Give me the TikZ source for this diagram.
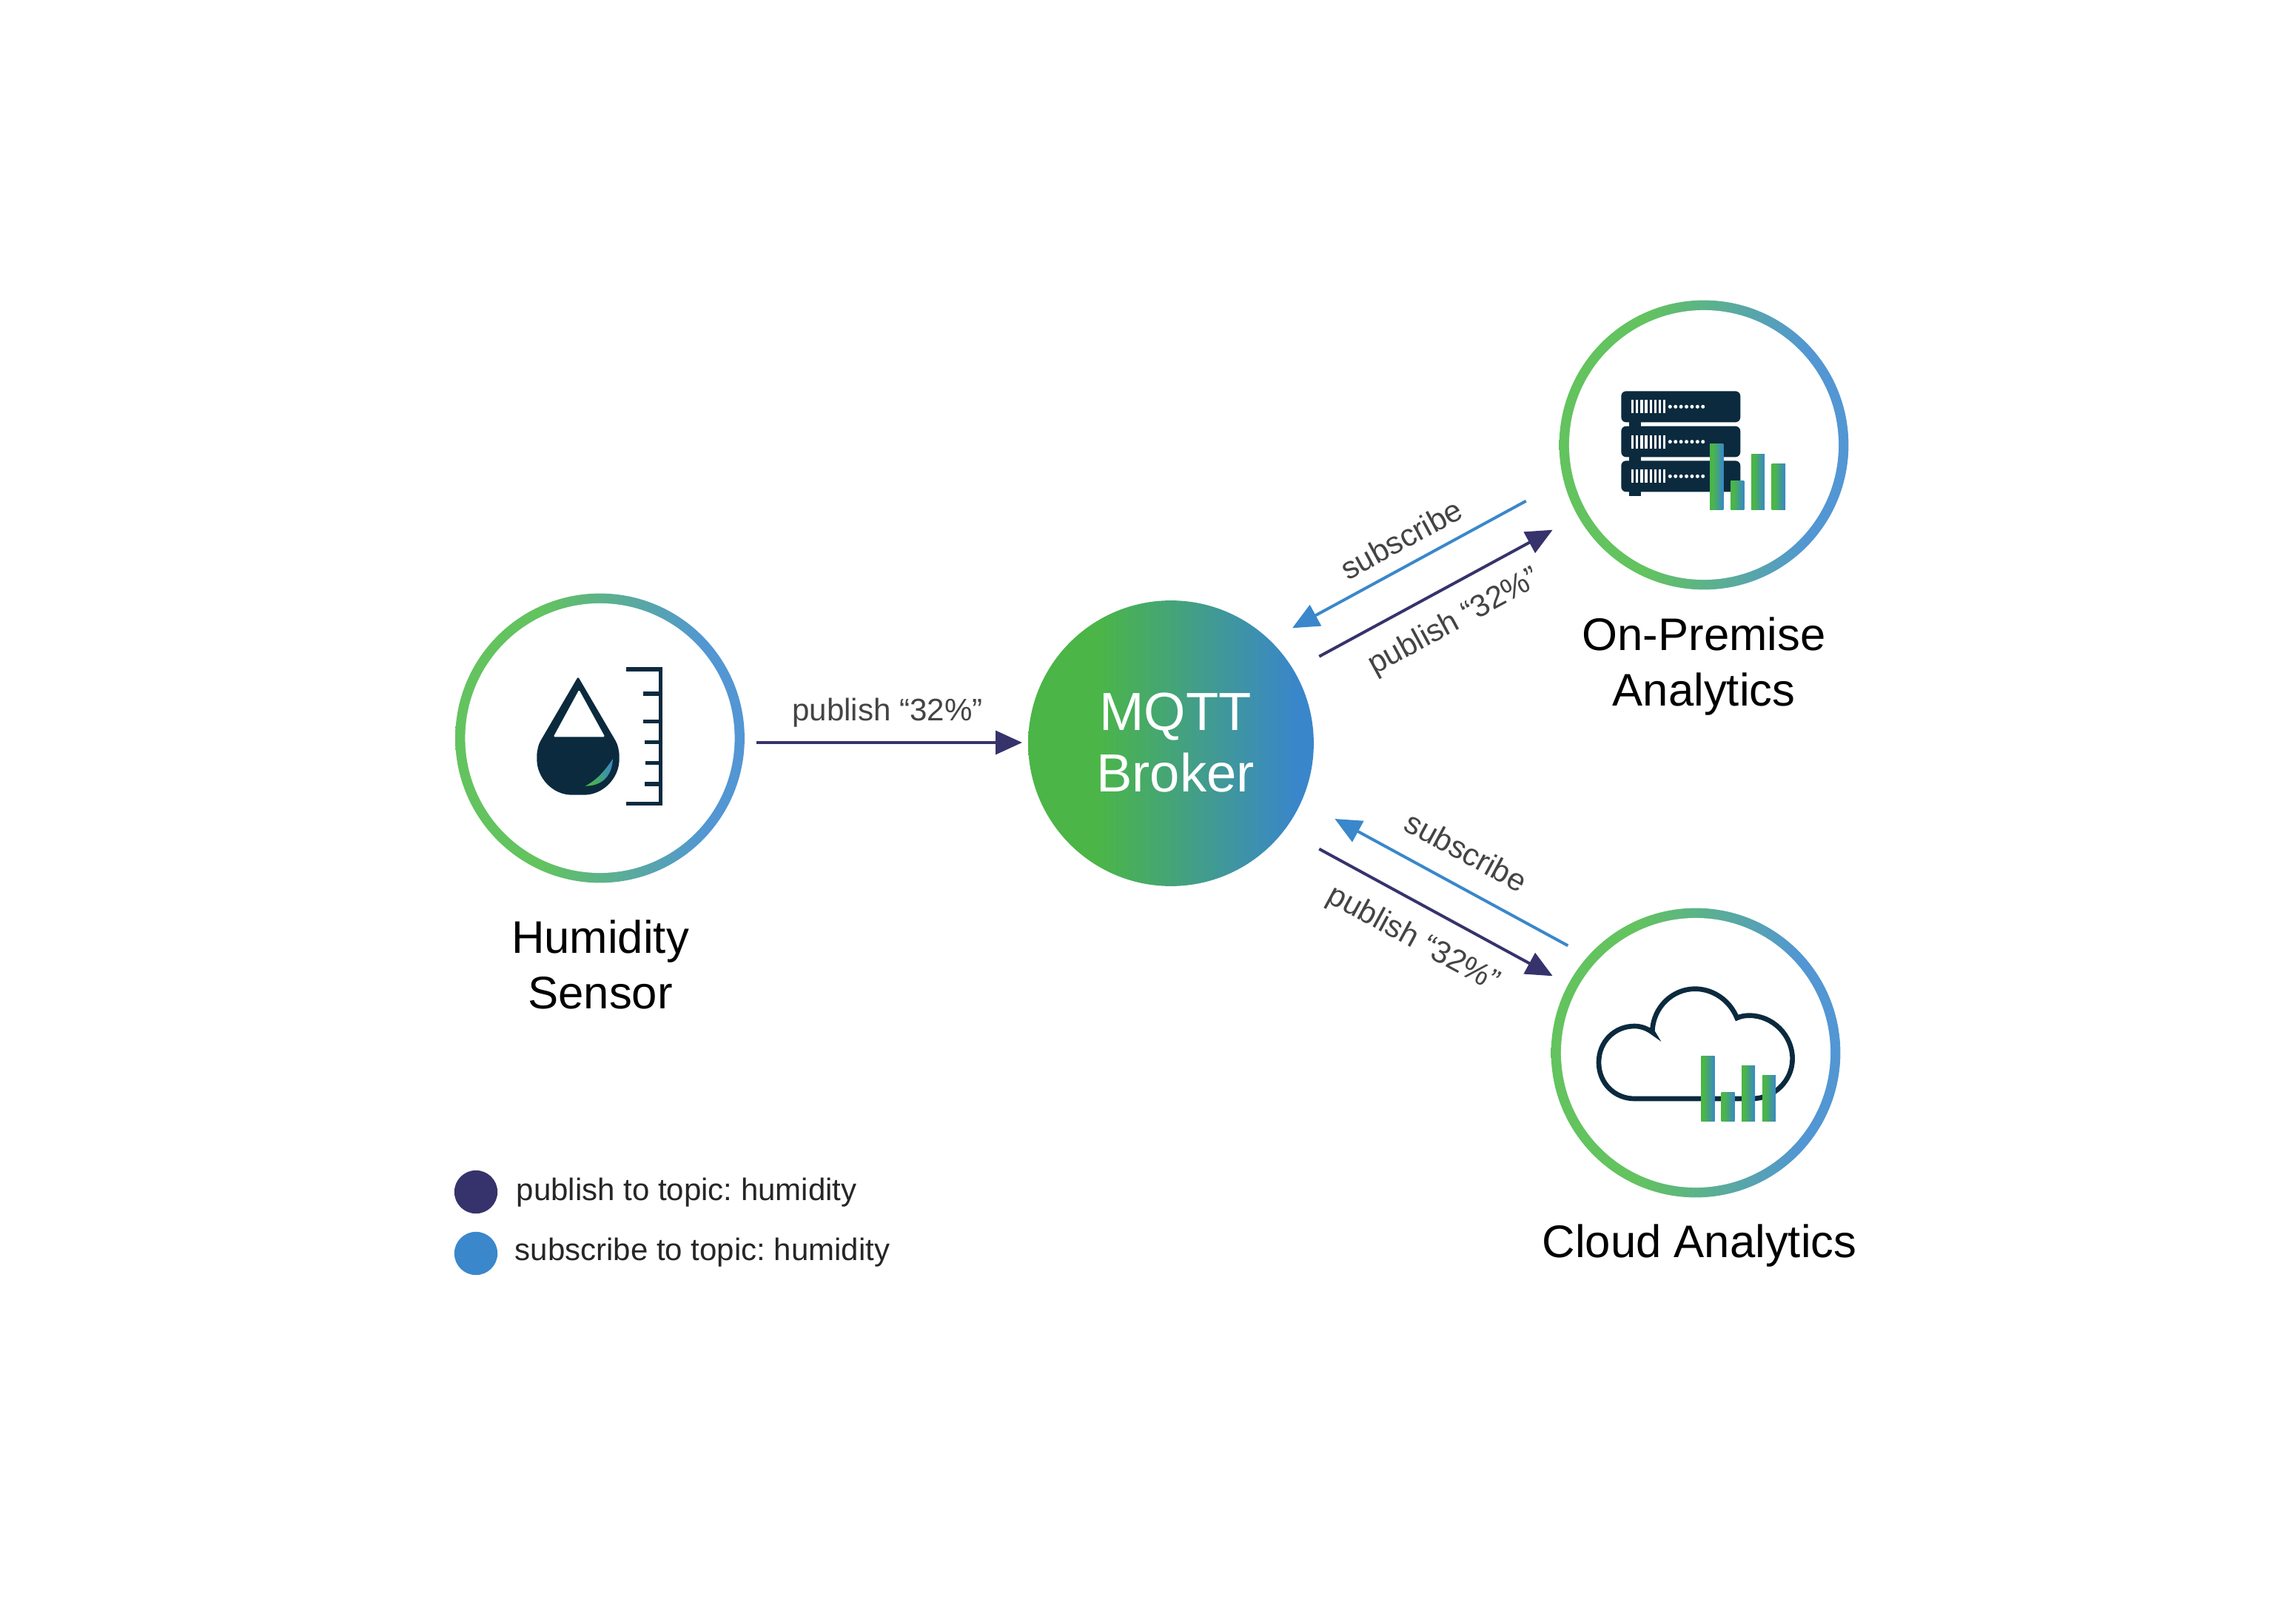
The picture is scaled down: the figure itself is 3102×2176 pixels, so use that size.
\documentclass[tikz,border=0pt]{standalone}
\usepackage{fontspec}
\setmainfont{Liberation Sans}
\usetikzlibrary{arrows.meta}
\definecolor{ringgreen}{HTML}{62C35F}
\definecolor{ringblue}{HTML}{5296D3}
\definecolor{brokergreen}{HTML}{4BB647}
\definecolor{brokerblue}{HTML}{3986CA}
\definecolor{ink}{HTML}{0B2A3D}
\definecolor{pubcol}{HTML}{35326C}
\definecolor{subcol}{HTML}{3A88CB}
\definecolor{labelcol}{HTML}{444444}
\pgfdeclarehorizontalshading{ringshade}{100bp}{color(0bp)=(ringgreen); color(40bp)=(ringgreen); color(68bp)=(ringblue); color(100bp)=(ringblue)}
\pgfdeclarehorizontalshading{brokershade}{100bp}{color(0bp)=(brokergreen); color(37bp)=(brokergreen); color(72bp)=(brokerblue); color(100bp)=(brokerblue)}
\pgfdeclarehorizontalshading{barshade}{100bp}{color(0bp)=(brokergreen); color(35bp)=(brokergreen); color(75bp)=(brokerblue); color(100bp)=(brokerblue)}
\tikzset{
  ringnode/.style={circle,inner sep=0pt,minimum size=93.8pt,shade,shading=ringshade},
  ringhole/.style={fill=white},
  brokernode/.style={circle,inner sep=0pt,minimum size=92.6pt,shade,shading=brokershade},
  brokertext/.style={text=white,align=center,inner sep=0pt,font=\fontsize{17.4}{20}\selectfont},
  bigtext/.style={text=black,align=center,inner sep=0pt,font=\fontsize{14.8}{18}\selectfont},
  smalltext/.style={text=labelcol,inner sep=0pt,font=\fontsize{10.1}{12}\selectfont},
  legendtext/.style={text=black!85,inner sep=0pt,anchor=west,font=\fontsize{10.08}{12}\selectfont},
  pubarrow/.style={draw=pubcol,line width=.95pt,-{Triangle[length=8.6pt,width=7.6pt]}},
  subarrow/.style={draw=subcol,line width=.95pt,-{Triangle[length=8.6pt,width=7.6pt]}},
  legenddot/.style={circle,inner sep=0pt,minimum size=14pt},
  iconfill/.style={fill=ink},
  barfill/.style={shading=barshade},
}
\begin{document}
\frenchspacing
\begin{tikzpicture}[x=.24pt,y=-.24pt]
\useasboundingbox (0,0) rectangle (3102,2176);
\fill[white] (0,0) rectangle (3102,2176);
% ---- rings
\node[ringnode] (sensor) at (810.5,997) {};
\fill[ringhole] (sensor.center) circle[radius=43.7pt];
\node[ringnode] (onprem) at (2302,601) {};
\fill[ringhole] (onprem.center) circle[radius=43.7pt];
\node[ringnode] (cloud) at (2291,1422) {};
\fill[ringhole] (cloud.center) circle[radius=43.7pt];
% ---- broker
\node[brokernode] (broker) at (1582,1004) {};
\node[brokertext] (brokerlabel) at (1588,1003) {MQTT\\Broker};
% ---- drop and ruler
\begin{scope}[shift={(600,790)},x=.08pt,y=-.08pt]
  \fill[iconfill,rounded corners=.6pt] (543,372) -- (395,625)
     .. controls (383,645) and (376,672) .. (376,700)
     .. controls (376,782) and (440,851) .. (525,851) -- (560,851)
     .. controls (645,851) and (710,782) .. (710,700)
     .. controls (710,672) and (703,645) .. (691,625) -- cycle;
  \fill[white,rounded corners=.4pt] (547,425) -- (443,616) -- (652,616) -- cycle;
  \shade[barfill] (684,705) .. controls (650,755) and (620,790) .. (572,815)
     .. controls (630,815) and (680,785) .. (684,705) -- cycle;
  \fill[iconfill] (737,334) rectangle (886,350);
  \fill[iconfill] (737,878) rectangle (886,893);
  \fill[iconfill] (870,334) rectangle (886,893);
  \fill[iconfill] (807,433) rectangle (870,449);
  \fill[iconfill] (807,545) rectangle (870,561);
  \fill[iconfill] (813,630) rectangle (870,646);
  \fill[iconfill] (817,714) rectangle (870,730);
  \fill[iconfill] (812,799) rectangle (870,815);
\end{scope}
% ---- server
\begin{scope}[shift={(2110,490)},x=.08pt,y=-.08pt]
  \fill[iconfill] (273,235) rectangle (320,262);
  \fill[iconfill] (273,375) rectangle (320,402);
  \fill[iconfill] (273,515) rectangle (320,540);
  \foreach \t/\b in {115/241,257/382,397/523}{
    \fill[iconfill,rounded corners=1.6pt] (241,\t) rectangle (724,\b);
    \foreach \i in {0,...,7}{
      \fill[white] ({282+18.4*\i},{\t+36}) rectangle ({292+18.4*\i},{\t+90});
    }
    \foreach \i in {0,...,6}{
      \fill[white] ({439+22.2*\i},{\t+63}) circle[radius=.6pt];
    }
  }
  \shade[barfill] (600,330) rectangle (655,594);
  \shade[barfill] (685,478) rectangle (739,594);
  \shade[barfill] (768,370) rectangle (822,594);
  \shade[barfill] (851,408) rectangle (906,594);
\end{scope}
% ---- cloud
\begin{scope}[shift={(2100,1280)},x=.08pt,y=-.08pt]
  \draw[ink,line width=1.6pt,miter limit=10] (400,345)
     .. controls (380,330) and (355,318) .. (325,318)
     .. controls (245,318) and (180,380) .. (180,465)
     .. controls (180,550) and (245,612) .. (325,612)
     -- (800,612)
     .. controls (890,612) and (965,540) .. (965,450)
     .. controls (965,355) and (885,275) .. (790,275)
     .. controls (772,275) and (755,278) .. (740,285)
     .. controls (712,215) and (645,167) .. (570,167)
     .. controls (480,167) and (400,240) .. (397,340) -- cycle;
  \shade[barfill] (595,440) rectangle (650,703);
  \shade[barfill] (677,586) rectangle (731,703);
  \shade[barfill] (759,478) rectangle (813,703);
  \shade[barfill] (843,516) rectangle (897,703);
\end{scope}
% ---- connector ends
\coordinate (a1) at (1022,1003);
\coordinate (a2) at (1381,1003);
\coordinate (b1) at (2061.7,676.7);
\coordinate (b2) at (1746,848.3);
\coordinate (c1) at (1782.3,886.7);
\coordinate (c2) at (2097.7,715.7);
\coordinate (d1) at (2118.3,1277.3);
\coordinate (d2) at (1803.3,1106);
\coordinate (e1) at (1782.3,1146.7);
\coordinate (e2) at (2097.7,1318.3);
\draw[pubarrow] (a1) -- (a2);
\draw[subarrow] (b1) -- (b2);
\draw[pubarrow] (c1) -- (c2);
\draw[subarrow] (d1) -- (d2);
\draw[pubarrow] (e1) -- (e2);
% ---- labels
\node[smalltext] (l1) at (1199,963) {publish “32\%”};
\node[smalltext,rotate=28.5] (l2) at (1893,728) {subscribe};
\node[smalltext,rotate=28.5] (l3) at (1965,841) {publish “32\%”};
\node[smalltext,rotate=-28.5] (l4) at (1981,1150) {subscribe};
\node[smalltext,rotate=-28.5] (l5) at (1909,1269) {publish “32\%”};
\node[bigtext] (sensorlabel) at (811,1303) {Humidity\\Sensor};
\node[bigtext] (onpremlabel) at (2302,900) {On-Premise\\Analytics};
\node[bigtext] (cloudlabel) at (2296,1683) {Cloud Analytics};
% ---- legend
\node[legenddot,fill=pubcol] (dot1) at (643,1610) {};
\node[legenddot,fill=subcol] (dot2) at (643,1693) {};
\node[legendtext] (leg1) at (697,1611) {publish to topic: humidity};
\node[legendtext] (leg2) at (695,1692) {subscribe to topic: humidity};
\end{tikzpicture}
\end{document}
